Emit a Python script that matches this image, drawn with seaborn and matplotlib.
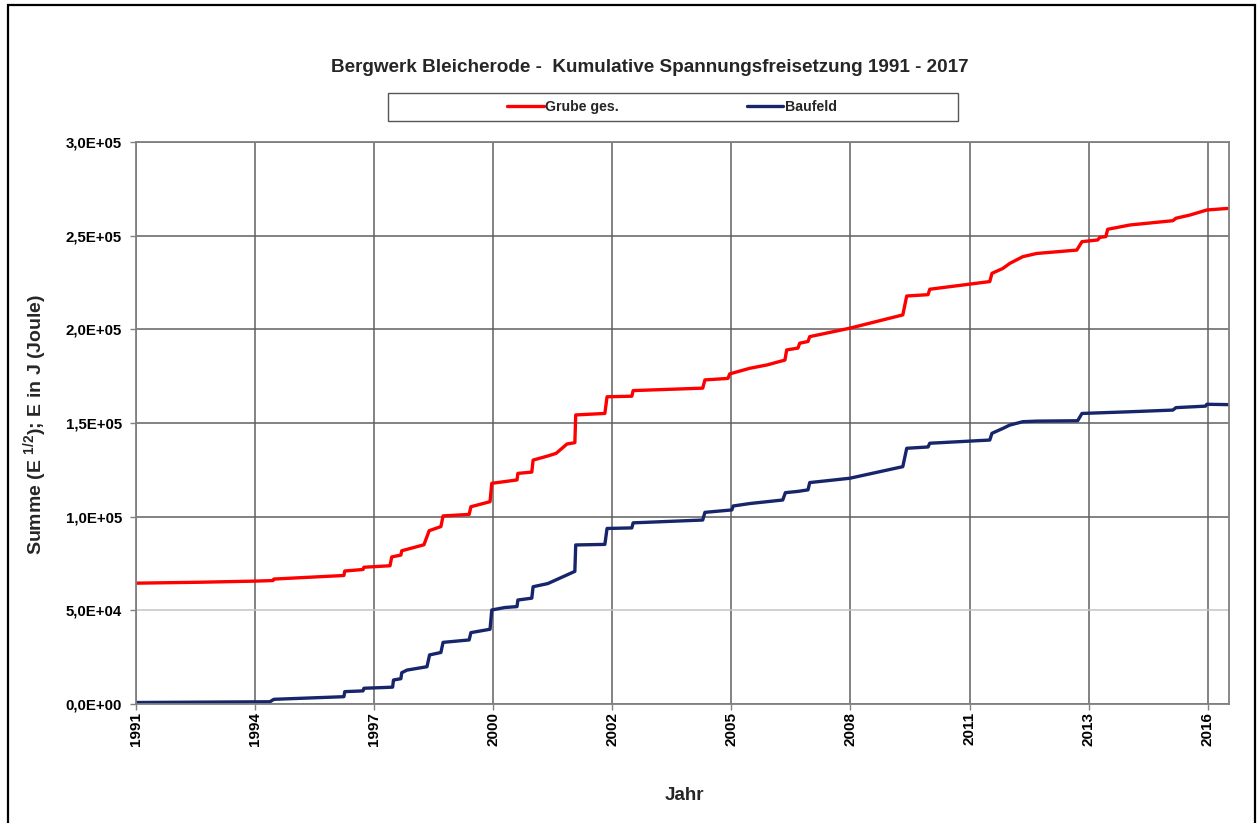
import numpy as np
import pandas as pd
import matplotlib
matplotlib.use("Agg")
import matplotlib.pyplot as plt
import seaborn as sns
from matplotlib.patches import Rectangle
from matplotlib.ticker import FuncFormatter

# Data (x in decimal years, y in thousands)
series_names = ["Grube ges.", "Baufeld"]

red_year = [1991.87, 1993.34, 1994.61, 1995.02, 1995.04, 1996.65, 1996.67, 1997.09, 1997.11, 1997.71,
            1997.75, 1997.96, 1997.98, 1998.49, 1998.61, 1998.88, 1998.93, 1999.53, 1999.57, 2000.01,
            2000.05, 2000.63, 2000.65, 2000.97, 2001.00, 2001.34, 2001.53, 2001.78, 2001.96, 2001.98,
            2002.65, 2002.70, 2003.27, 2003.30, 2004.90, 2004.95, 2005.48, 2005.52, 2005.98, 2006.38,
            2006.79, 2006.83, 2007.09, 2007.13, 2007.32, 2007.36, 2008.28, 2009.50, 2009.59, 2010.08,
            2010.12, 2011.50, 2011.55, 2011.80, 2011.96, 2012.26, 2012.58, 2013.50, 2013.62, 2013.98,
            2014.03, 2014.17, 2014.21, 2014.72, 2015.71, 2015.78, 2016.10, 2016.49, 2017.00]
red_k = [64.5, 65.0, 65.6, 65.9, 66.7, 68.6, 71.0, 71.8, 73.0, 73.8,
         78.5, 79.5, 81.8, 85.0, 92.5, 94.7, 100.4, 101.2, 105.3, 108.0,
         117.8, 119.6, 123.1, 123.8, 130.2, 132.4, 133.8, 138.8, 139.5, 154.3,
         155.1, 164.0, 164.3, 167.3, 168.6, 173.0, 173.8, 176.2, 179.2, 181.0,
         183.6, 189.0, 190.0, 192.6, 193.5, 196.1, 200.6, 207.7, 217.8, 218.5,
         221.4, 225.5, 229.9, 232.5, 235.2, 238.8, 240.5, 242.3, 246.8, 247.7,
         249.1, 249.5, 253.4, 255.7, 258.0, 259.3, 261.0, 263.7, 264.6]

blue_year = [1991.87, 1994.95, 1995.04, 1996.65, 1996.67, 1997.09, 1997.11, 1997.57, 1997.77, 1997.79,
             1997.96, 1997.98, 1998.10, 1998.56, 1998.62, 1998.88, 1998.93, 1999.53, 1999.57, 2000.01,
             2000.05, 2000.35, 2000.63, 2000.65, 2000.97, 2001.00, 2001.34, 2001.96, 2001.98, 2002.65,
             2002.70, 2003.27, 2003.30, 2004.90, 2004.95, 2005.57, 2005.60, 2005.98, 2006.74, 2006.80,
             2007.09, 2007.32, 2007.36, 2008.28, 2009.50, 2009.59, 2010.08, 2010.12, 2011.50, 2011.55,
             2011.80, 2011.96, 2012.26, 2012.58, 2013.52, 2013.62, 2014.72, 2015.71, 2015.78, 2016.46,
             2016.49, 2017.00]
blue_k = [0.8, 1.2, 2.5, 3.9, 6.6, 7.0, 8.4, 8.8, 9.0, 12.8,
          13.5, 16.7, 18.1, 19.9, 26.2, 27.5, 32.9, 34.2, 38.1, 39.9,
          50.2, 51.5, 52.0, 55.5, 56.5, 62.6, 64.3, 70.8, 84.9, 85.2,
          93.7, 94.0, 96.7, 98.2, 102.3, 103.6, 105.7, 107.0, 108.9, 112.8,
          113.5, 114.3, 118.2, 120.5, 126.7, 136.5, 137.2, 139.2, 140.9, 144.5,
          147.1, 148.9, 150.7, 151.0, 151.2, 155.1, 156.0, 156.9, 158.2, 159.0,
          160.0, 159.8]

tick_labels = ["1991", "1994", "1997", "2000", "2002", "2005", "2008", "2011", "2013", "2016"]

df = pd.concat([
    pd.DataFrame({"Jahr": red_year, "Summe": np.array(red_k) * 1000, "Reihe": series_names[0]}),
    pd.DataFrame({"Jahr": blue_year, "Summe": np.array(blue_k) * 1000, "Reihe": series_names[1]}),
], ignore_index=True)

sns.set_style("ticks")
plt.rcParams['font.family'] = ['Liberation Sans', 'DejaVu Sans']
plt.rcParams['font.weight'] = 'bold'
plt.rcParams['mathtext.fontset'] = 'custom'
plt.rcParams['mathtext.rm'] = 'Liberation Sans:bold'
plt.rcParams['mathtext.it'] = 'Liberation Sans:bold'
plt.rcParams['mathtext.bf'] = 'Liberation Sans:bold'

W, H = 1258, 823
fig = plt.figure(figsize=(W / 100, H / 100), dpi=100)
ax = fig.add_axes([136 / W, 1 - 704 / H, (1229 - 136) / W, (704 - 142) / H])

sns.lineplot(data=df, x="Jahr", y="Summe", hue="Reihe", hue_order=series_names,
             palette={"Grube ges.": "#ff0000", "Baufeld": "#17256a"},
             estimator=None, sort=False, linewidth=2.4, legend=False, ax=ax)

# Excel-style date axis: ticks every 1000 days
x0, x1 = 1991.87, 2017.0
ax.set_xlim(x0, x1)
ax.set_xticks(x0 + np.arange(len(tick_labels)) * 1000 / 365.25)
ax.set_xticklabels(tick_labels, rotation=90, fontsize=11, fontweight='bold')
ax.set_ylim(0, 3e5)
ax.set_yticks(np.arange(0, 3.01e5, 5e4))
ax.yaxis.set_major_formatter(FuncFormatter(lambda v, p: f"{v:.1E}".replace(".", ",")))
ax.tick_params(axis='both', direction='out', length=4, width=1, color='#808080',
               labelcolor='black')
ax.tick_params(axis='y', pad=6, labelsize=10.8)
ax.tick_params(axis='x', pad=2, labelsize=11)

ax.grid(True, color='#606060', linewidth=1.1)
ax.yaxis.get_gridlines()[1].set_color('#c4c4c4')
for s in ax.spines.values():
    s.set_color('#808080')
    s.set_linewidth(1.3)
ax.set_xlabel("")
ax.set_ylabel("")

fig.text(650 / W, 1 - 68 / H, "Bergwerk Bleicherode -  Kumulative Spannungsfreisetzung 1991 - 2017",
         ha='center', va='center', fontsize=13.6, fontweight='bold')
fig.text(35 / W, 1 - 424 / H, "Summe (E $^{1/2}$); E in J (Joule)", rotation=90,
         ha='center', va='center', fontsize=14, fontweight='bold')
fig.text(684 / W, 1 - 795 / H, "Jahr", ha='center', va='center', fontsize=13.5, fontweight='bold')

fig.legend(handles=ax.lines[:2], labels=series_names, loc='center',
           bbox_to_anchor=(672 / W, 1 - 107 / H), ncol=2, frameon=False, fontsize=10.2,
           handlelength=2.6, handletextpad=0.1, columnspacing=9.0)
fig.add_artist(Rectangle((388 / W, 1 - 121 / H), (958 - 388) / W, 28 / H, transform=fig.transFigure,
                         fill=False, edgecolor='#555555', linewidth=1))
fig.add_artist(Rectangle((8 / W, -0.01), (1255 - 8) / W, 1.01 - 5 / H, transform=fig.transFigure,
                         fill=False, edgecolor='black', linewidth=1.6))

fig.savefig("out.png", dpi=100)
